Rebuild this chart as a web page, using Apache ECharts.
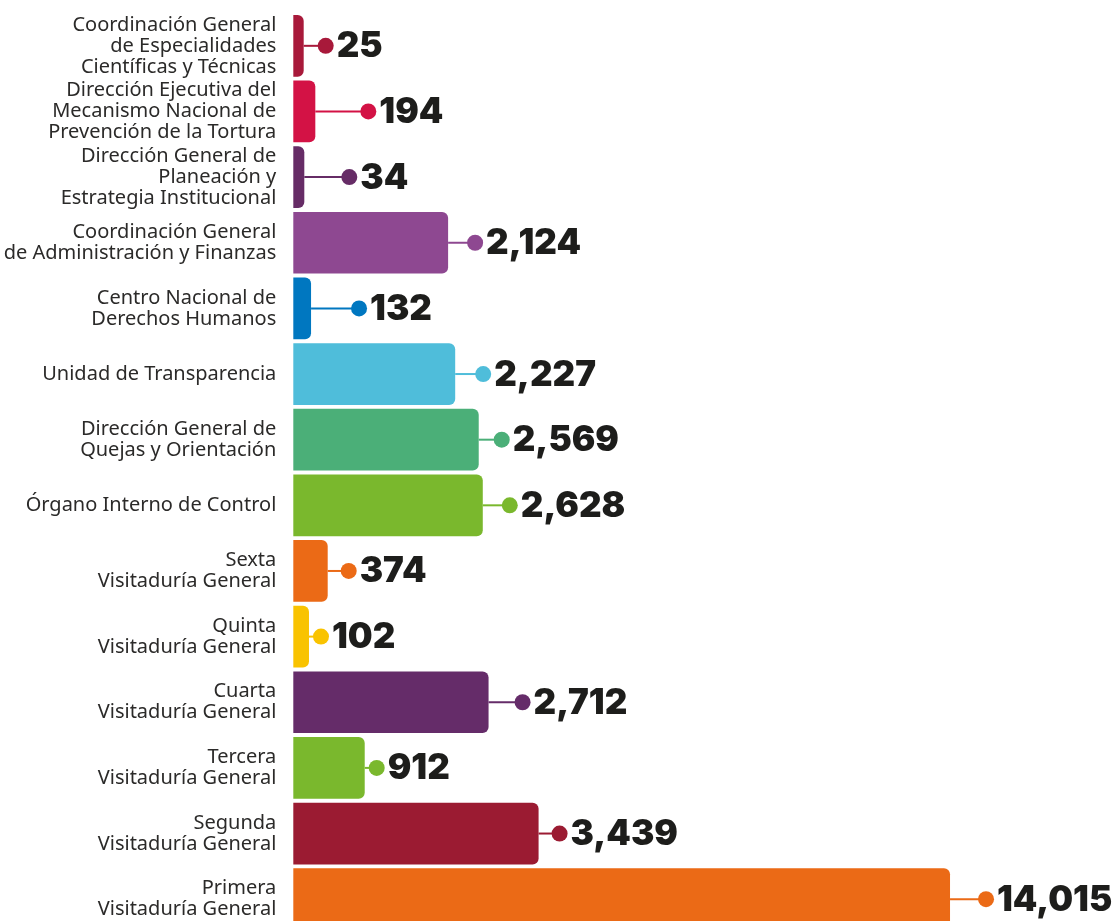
<!DOCTYPE html>
<html lang="es">
<head>
<meta charset="utf-8">
<title>Solicitudes por unidad responsable</title>
<script src="https://cdn.jsdelivr.net/npm/echarts@6/dist/echarts.min.js"></script>
<style>
  html, body { margin: 0; padding: 0; background: #ffffff; width: 1114px; height: 921px; overflow: hidden; }
  #chart { width: 1114px; height: 932px; }
</style>
</head>
<body>
<div id="chart"></div>
<script>
// Units, top to bottom
const categories = [
  'Coordinación General\nde Especialidades\nCientíficas y Técnicas',
  'Dirección Ejecutiva del\nMecanismo Nacional de\nPrevención de la Tortura',
  'Dirección General de\nPlaneación y\nEstrategia Institucional',
  'Coordinación General\nde Administración y Finanzas',
  'Centro Nacional de\nDerechos Humanos',
  'Unidad de Transparencia',
  'Dirección General de\nQuejas y Orientación',
  'Órgano Interno de Control',
  'Sexta\nVisitaduría General',
  'Quinta\nVisitaduría General',
  'Cuarta\nVisitaduría General',
  'Tercera\nVisitaduría General',
  'Segunda\nVisitaduría General',
  'Primera\nVisitaduría General'
];

// Totals per unit
const values = [25, 194, 34, 2124, 132, 2227, 2569, 2628, 374, 102, 2712, 912, 3439, 14015];

// Bar colours per unit
const colors = [
  '#A8193A', '#D31245', '#662C66', '#8E4891', '#0077C0', '#4FBDDA', '#4BAF78',
  '#7AB82D', '#EB6A16', '#F9C300', '#652C69', '#7AB82D', '#9B1B32', '#EB6A16'
];

// Leader line length (px) from bar end to the value dot
const leaderLengths = [22, 53, 45, 27, 48, 28, 23, 27, 21, 12, 34, 12, 21, 36];

const X_MIN = -126;
const LABEL_FONT = '"Noto Sans", "DejaVu Sans", sans-serif';
const VALUE_FONT = 'Inter, "Noto Sans", sans-serif';

const fmt = v => v.toLocaleString('en-US');
const seriesData = values.map((v, i) => [v, i]);

const chart = echarts.init(document.getElementById('chart'), null, { renderer: 'canvas' });

chart.setOption({
  animation: false,
  backgroundColor: '#ffffff',
  grid: { left: 293.3, right: 27.4, top: 13, bottom: 0, containLabel: false, outerBoundsMode: 'none' },
  xAxis: {
    type: 'value',
    min: X_MIN,
    max: 16000,
    // the largest unit is drawn across a compressed stretch of the axis
    breaks: [{ start: 4000, end: 8596, gap: 0 }],
    breakArea: { show: false },
    show: false,
    splitLine: { show: false }
  },
  yAxis: {
    type: 'category',
    data: categories,
    inverse: true,
    axisLine: { show: false },
    axisTick: { show: false },
    axisLabel: {
      margin: 17,
      align: 'right',
      color: '#2b2a29',
      fontFamily: LABEL_FONT,
      fontSize: 20,
      lineHeight: 21
    }
  },
  series: [
    {
      // Bars drawn from the axis start to each value, rounded on the right
      type: 'custom',
      name: 'barras',
      encode: { x: 0, y: 1 },
      data: seriesData,
      renderItem: function (params, api) {
        const i = params.dataIndex;
        const start = api.coord([X_MIN, api.value(1)]);
        const end = api.coord([api.value(0), api.value(1)]);
        const h = api.size([0, 1])[1] * 0.94;
        return {
          type: 'rect',
          shape: { x: start[0], y: start[1] - h / 2, width: end[0] - start[0], height: h, r: [0, 6, 6, 0] },
          style: { fill: colors[i] }
        };
      }
    },
    {
      // Leader line, dot and value label after each bar
      type: 'custom',
      name: 'etiquetas',
      encode: { x: 0, y: 1 },
      data: seriesData,
      z: 3,
      renderItem: function (params, api) {
        const i = params.dataIndex;
        const v = api.value(0);
        const end = api.coord([v, api.value(1)]);
        const dotX = end[0] + leaderLengths[i];
        return {
          type: 'group',
          children: [
            {
              type: 'line',
              shape: { x1: end[0], y1: end[1], x2: dotX, y2: end[1] },
              style: { stroke: colors[i], lineWidth: 2 }
            },
            {
              type: 'circle',
              shape: { cx: dotX, cy: end[1], r: 8 },
              style: { fill: colors[i] }
            },
            {
              type: 'text',
              x: dotX + 11,
              y: end[1] + 1,
              style: {
                text: fmt(v),
                fill: '#1d1d1b',
                font: '900 35px ' + VALUE_FONT,
                align: 'left',
                verticalAlign: 'middle'
              }
            }
          ]
        };
      }
    }
  ]
});
</script>
</body>
</html>
